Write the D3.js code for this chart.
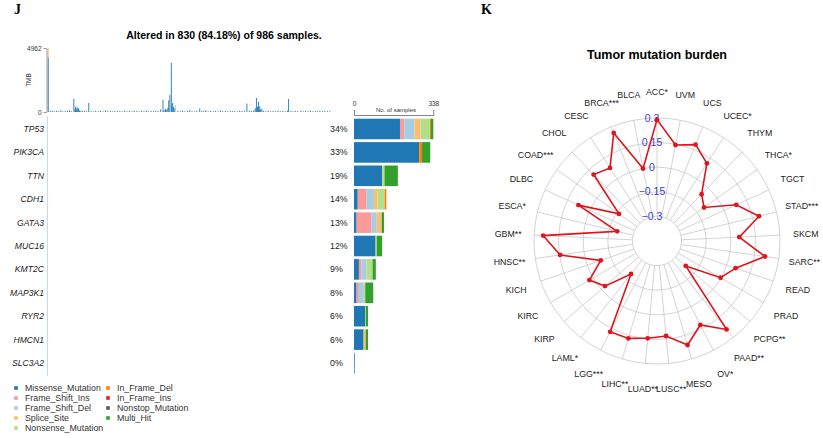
<!DOCTYPE html>
<html><head><meta charset="utf-8">
<script src="https://cdn.jsdelivr.net/npm/d3@7.9.0/dist/d3.min.js"></script>
<style>
body{margin:0;background:#fff}
svg{display:block;font-family:"Liberation Sans",Arial,sans-serif}
</style>
</head><body>
<svg id="chart" width="823" height="438"></svg>
<script>
// ---- oncoplot data ----
const nSamples = 986;
const genes = ['TP53','PIK3CA','TTN','CDH1','GATA3','MUC16','KMT2C','MAP3K1','RYR2','HMCN1','SLC3A2'];
const pctLabels = ['34%','33%','19%','14%','13%','12%','9%','8%','6%','6%','0%'];
const classes = ['Missense_Mutation','Frame_Shift_Ins','Frame_Shift_Del','Splice_Site','Nonsense_Mutation',
                 'In_Frame_Del','In_Frame_Ins','Nonstop_Mutation','Multi_Hit'];
const classColors = ['#1F78B4','#FB9A99','#A6CEE3','#FDBF6F','#B2DF8A','#FF7F00','#E31A1C','#535C68','#33A02C'];
// counts per gene, in class order
const geneCounts = [
  [196,18,43,27,40,4,0,0,10],
  [278,0,0,0,0,12,0,0,35],
  [120,0,0,0,10,0,0,0,57],
  [16,38,31,16,30,7,0,0,0],
  [11,64,22,21,0,0,0,0,10],
  [92,0,0,0,5,0,0,0,23],
  [21,11,21,0,26,0,0,0,14],
  [11,10,21,0,6,0,0,0,34],
  [47,0,0,0,3,0,0,0,10],
  [41,0,0,9,0,0,0,0,10],
  [3,0,0,0,0,0,0,0,0]
];
const maxCount = 338;
const tmbMax = 4962;
// [sample, missense, other, other class]
const tmb = [
  [1,4235,727,'Splice_Site'],[8,80],[15,110,20,'Frame_Shift_Del'],[22,60],[30,95],[38,70],[45,130],[52,55],[60,90],
  [68,75],[75,140],[82,60],[90,1030],[94,220,60,'Frame_Shift_Del'],[96,400],[99,180,40,'Frame_Shift_Del'],
  [101,350,150,'Frame_Shift_Del'],[104,260],[106,300],[110,120],[115,90],[120,70],[127,100],[134,60],[142,700],
  [150,80],[158,50],[166,110],[175,70],[183,95],[192,60],[200,130],[208,75],[217,90],[225,55],[233,100],[242,70],
  [250,85],[258,60],[267,120],[275,70],[283,90],[292,65],[300,110],[309,80],[317,60],[326,95],[334,70],[342,120],
  [350,60],[359,85],[367,70],[375,110],[383,90],[392,200],[400,960],[404,150],[409,250,40,'Frame_Shift_Del'],
  [413,180],[417,320],[420,900],[424,1300,100,'Frame_Shift_Del'],[429,3800],[431,600],[434,700],
  [436,400,80,'Frame_Shift_Del'],[439,300],[444,0,540,'Frame_Shift_Del'],[452,90],[460,70],[468,110],[476,60],
  [485,90],[493,140],[501,70],[510,60],[518,100],[528,280],[535,70],[542,90],[549,150],[557,60],[566,110],[575,70],
  [583,90],[592,60],[600,120],[608,70],[617,80],[625,60],[634,100],[642,70],[650,90],[659,60],[667,120],[675,80],
  [684,90],[692,650],[700,100],[708,80],[716,140],[721,300],[725,1085],[729,400,60,'Frame_Shift_Del'],[732,800],
  [735,250],[737,450],[740,180,60,'Frame_Shift_Del'],[744,250],[750,90],[758,70],[766,110],[775,60],[783,90],
  [792,70],[800,120],[808,60],[817,90],[825,70],[833,110],[837,1010],[845,80],[852,60],[860,100],[868,70],
  [880,120],[888,60],[896,90],[905,70],[913,110],[921,60],[930,80],[938,70],[946,100],[955,60],[963,90],[972,70],[980,60]
];

// ---- radar data ----
const cancers = ['ACC*','BLCA','BRCA***','CESC','CHOL','COAD***','DLBC','ESCA*','GBM**','HNSC**','KICH','KIRC',
  'KIRP','LAML*','LGG***','LIHC**','LUAD**','LUSC**','MESO','OV*','PAAD**','PCPG**','PRAD','READ','SARC**',
  'SKCM','STAD***','TGCT','THCA*','THYM','UCEC*','UCS','UVM'];
const tmbCor = [0.29,0.0,0.26,0.08,0.11,-0.165,0.077,-0.2,0.245,0.147,-0.087,0.026,-0.03,-0.194,0.173,0.169,
  0.146,0.132,0.211,0.126,0.236,-0.218,-0.002,0.057,0.215,0.052,0.19,0.081,-0.098,-0.056,0.113,0.183,0.146];
const radarTicks = [-0.3,-0.15,0,0.15,0.3];
const radarTickLabels = ['\u22120.3','\u22120.15','0','0.15','0.3'];

const svg = d3.select('#chart');
const color = d3.scaleOrdinal(classes, classColors);

// panel letters
svg.append('text').attr('x', 14).attr('y', 14).text('J')
   .attr('font-family', '"Liberation Serif",serif').attr('font-weight', 'bold').attr('font-size', 14);
svg.append('text').attr('x', 481).attr('y', 14).text('K')
   .attr('font-family', '"Liberation Serif",serif').attr('font-weight', 'bold').attr('font-size', 14);

// ---- oncoplot ----
svg.append('text').attr('x', 224).attr('y', 39).attr('text-anchor', 'middle')
   .attr('font-weight', 'bold').attr('font-size', 10.5)
   .text('Altered in 830 (84.18%) of 986 samples.');

const x = d3.scaleLinear().domain([0, nSamples]).range([47.5, 331]);
const yT = d3.scaleLinear().domain([0, tmbMax]).range([112, 48]);

const tmbG = svg.append('g');
tmb.forEach(([s, mis, oth, cls]) => {
  tmbG.append('rect').attr('x', x(s)).attr('width', 0.9)
      .attr('y', yT(mis)).attr('height', yT(0) - yT(mis)).attr('fill', color('Missense_Mutation'));
  if (oth) {
    tmbG.append('rect').attr('x', x(s)).attr('width', 0.9)
        .attr('y', yT(mis + oth)).attr('height', yT(mis) - yT(mis + oth)).attr('fill', color(cls));
  }
});
const tmbAxis = svg.append('g').attr('transform', 'translate(46.5,0)')
   .call(d3.axisLeft(yT).tickValues([0, tmbMax]).tickFormat(d3.format('d'))
           .tickSize(3).tickSizeOuter(0).tickPadding(2));
tmbAxis.selectAll('path,line').attr('stroke', '#555').attr('stroke-width', 0.6);
tmbAxis.selectAll('text').attr('font-size', 6.5).attr('fill', '#333');
svg.append('text').attr('transform', 'translate(31,80) rotate(-90)').attr('text-anchor', 'middle')
   .attr('font-size', 6.5).attr('fill', '#333').text('TMB');

// gene rows
const y = d3.scaleBand().domain(genes).range([117.3, 374.7]).paddingInner(0.12).paddingOuter(0.06);
svg.append('line').attr('x1', 47.5).attr('x2', 47.5).attr('y1', 116).attr('y2', 376)
   .attr('stroke', '#C6DCEC').attr('stroke-width', 1.2);

svg.append('g').selectAll('text').data(genes).join('text')
   .attr('x', 44).attr('y', d => y(d) + y.bandwidth() / 2).attr('dy', '0.35em')
   .attr('text-anchor', 'end').attr('font-style', 'italic').attr('font-size', 8.6).attr('fill', '#222')
   .text(d => d);
svg.append('g').selectAll('text').data(pctLabels).join('text')
   .attr('x', 330).attr('y', (d, i) => y(genes[i]) + y.bandwidth() / 2).attr('dy', '0.35em')
   .attr('font-size', 8.8).attr('fill', '#222').text(d => d);

const xc = d3.scaleLinear().domain([0, maxCount]).range([354, 433.3]);
const stack = d3.stack().keys(d3.range(classes.length));
const series = stack(geneCounts);
svg.append('g').selectAll('g').data(series).join('g')
   .attr('fill', (d, i) => classColors[i])
   .selectAll('rect').data(d => d).join('rect')
   .attr('x', d => xc(d[0])).attr('width', d => xc(d[1]) - xc(d[0]))
   .attr('y', (d, j) => y(genes[j])).attr('height', y.bandwidth());

const cntAxis = svg.append('g').attr('transform', 'translate(0,115)')
   .call(d3.axisTop(xc).tickValues([0, maxCount]).tickSize(0).tickSizeOuter(5).tickPadding(9));
cntAxis.selectAll('path').attr('stroke', '#333').attr('stroke-width', 0.6);
cntAxis.selectAll('text').attr('font-size', 6.5).attr('fill', '#333');
svg.append('text').attr('x', 396).attr('y', 112).attr('text-anchor', 'middle')
   .attr('font-size', 6).attr('fill', '#333').text('No. of samples');

// legend
const leg = svg.append('g').selectAll('g').data(classes).join('g')
   .attr('transform', (d, i) => `translate(${i < 5 ? 16 : 108},${388 + (i % 5) * 10})`);
leg.append('rect').attr('x', -1.8).attr('y', -1.8).attr('width', 3.6).attr('height', 3.6)
   .attr('fill', d => color(d));
leg.append('text').attr('x', 9).attr('dy', '0.35em').attr('font-size', 8.8).attr('fill', '#333')
   .text(d => d);

// ---- radar ----
const cx = 657, cy = 241;
const r = d3.scaleLinear().domain([-0.45, 0.3]).range([0, 123]);
const step = 2 * Math.PI / cancers.length;
const ang = i => -i * step;
const rg = svg.append('g').attr('transform', `translate(${cx},${cy})`);

rg.selectAll('circle.grid').data(radarTicks).join('circle').attr('class', 'grid')
  .attr('r', d => r(d)).attr('fill', 'none').attr('stroke', '#C8C8C8').attr('stroke-width', 0.8);
rg.selectAll('line.spoke').data(cancers).join('line').attr('class', 'spoke')
  .attr('x1', (d, i) => r(-0.3) * Math.sin(ang(i))).attr('y1', (d, i) => -r(-0.3) * Math.cos(ang(i)))
  .attr('x2', (d, i) => r(0.3) * Math.sin(ang(i))).attr('y2', (d, i) => -r(0.3) * Math.cos(ang(i)))
  .attr('stroke', '#C8C8C8').attr('stroke-width', 0.8);

rg.selectAll('text.tick').data(radarTicks).join('text').attr('class', 'tick')
  .attr('x', -5).attr('y', d => -r(d)).attr('dy', '0.35em').attr('text-anchor', 'middle')
  .attr('font-size', 10.5).attr('fill', '#3A3AC8').text((d, i) => radarTickLabels[i]);

const line = d3.lineRadial().angle((d, i) => ang(i)).radius(d => r(d)).curve(d3.curveLinearClosed);
rg.append('path').datum(tmbCor).attr('d', line)
  .attr('fill', 'none').attr('stroke', '#E0141E').attr('stroke-width', 1.6);
rg.selectAll('circle.pt').data(tmbCor).join('circle').attr('class', 'pt')
  .attr('cx', (d, i) => r(d) * Math.sin(ang(i))).attr('cy', (d, i) => -r(d) * Math.cos(ang(i)))
  .attr('r', 2.4).attr('fill', '#E0141E');

rg.selectAll('text.lab').data(cancers).join('text').attr('class', 'lab')
  .attr('x', (d, i) => 149 * Math.sin(ang(i))).attr('y', (d, i) => -149 * Math.cos(ang(i)))
  .attr('dy', '0.35em').attr('text-anchor', 'middle').attr('font-size', 8.8).attr('fill', '#222')
  .text(d => d);

svg.append('text').attr('x', cx).attr('y', 59).attr('text-anchor', 'middle')
   .attr('font-weight', 'bold').attr('font-size', 12.5).text('Tumor mutation burden');
</script>
</body></html>
